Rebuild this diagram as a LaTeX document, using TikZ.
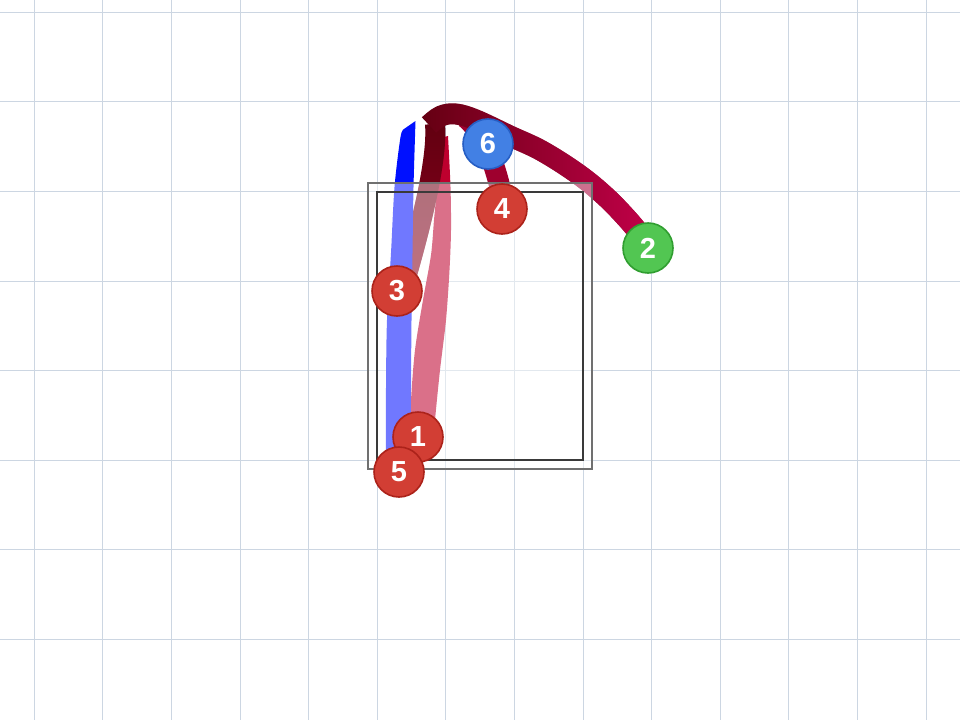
\documentclass[tikz,border=0pt]{standalone}
\usepackage{fontspec}
\setmainfont{Liberation Sans}
\usetikzlibrary{fadings}
\definecolor{gridc}{RGB}{204,214,226}
\definecolor{bluestroke}{RGB}{0,16,255}
\definecolor{redone}{RGB}{190,0,46}
\definecolor{darktop}{RGB}{96,0,16}
\definecolor{darkbot}{RGB}{146,0,32}
\definecolor{arcdark}{RGB}{100,0,18}
\definecolor{arclight}{RGB}{196,0,74}
\definecolor{sixfour}{RGB}{158,0,46}
\definecolor{mred}{RGB}{210,62,52}
\definecolor{mredb}{RGB}{172,34,26}
\definecolor{mgreen}{RGB}{82,198,82}
\definecolor{mgreenb}{RGB}{48,158,48}
\definecolor{mblue}{RGB}{66,128,228}
\definecolor{mblueb}{RGB}{38,94,196}
\definecolor{rectout}{RGB}{112,112,112}
\definecolor{rectin}{RGB}{58,58,58}
\begin{document}
\begin{tikzpicture}[x=1pt,y=-1pt,
  marker/.style={circle, minimum size=50pt, inner sep=0pt, line width=1.6pt,
    text=white, font=\bfseries\fontsize{29}{29}\selectfont},
  redm/.style={marker, fill=mred, draw=mredb},
  greenm/.style={marker, fill=mgreen, draw=mgreenb},
  bluem/.style={marker, fill=mblue, draw=mblueb},
  gridline/.style={gridc, line width=1pt},
  brush/.style={line cap=butt, line join=round}]
\useasboundingbox (0,0) rectangle (960,720);
\fill[white] (0,0) rectangle (960,720);
% grid
\foreach \i in {0,...,13} \draw[gridline] ({34.3+68.6*\i},0) -- ({34.3+68.6*\i},720);
\foreach \j in {0,...,7} \draw[gridline] (0,{12.3+89.57*\j}) -- (960,{12.3+89.57*\j});
% stroke 1 (tapered)
\fill[redone] plot[smooth] coordinates {(409,448) (411,400) (415,350) (423,300) (431,255) (434,220) (437,187) (440,138)}
  -- (448,136) -- plot[smooth] coordinates {(448,136) (450.5,187) (451,230) (449.5,270) (446,320) (440,370) (435,420) (433,448)}
  -- cycle;
% stroke 3
\draw[brush, darktop, line width=20pt] (435,124) .. controls (438,160) and (420,230) .. (403,288);
\draw[brush, darkbot, line width=20pt, path fading=north] (435,124) .. controls (438,160) and (420,230) .. (403,288);
% blue stroke
\fill[bluestroke] plot[smooth] coordinates {(386,458) (386,387) (387,320) (391,253) (394.5,187) (400.5,137) (404,129)}
  -- (415.5,121) -- plot[smooth] coordinates {(415.5,121) (413.5,187) (412.5,253) (411.5,320) (411,387) (411,445)}
  -- (398,462) -- cycle;
% stroke 6 to 4
\draw[brush, sixfour, line width=21pt] (466,118) .. controls (482,132) and (493,155) .. (503,200);
% arc stroke 2
\draw[brush, arcdark, line width=21pt] plot[smooth, tension=0.6] coordinates
  {(429,125) (441,116) (456,114) (476,120) (510,136) (542,151) (578,174) (606,197) (630,222) (645,241)};
\draw[brush, arclight, line width=21pt, path fading=west] plot[smooth, tension=0.6] coordinates
  {(429,125) (441,116) (456,114) (476,120) (510,136) (542,151) (578,174) (606,197) (630,222) (645,241)};
% frame overlay
\fill[white, opacity=0.44] (367.7,182.7) rectangle (592.3,469.3);
\draw[rectout, line width=2pt] (367.7,182.7) rectangle (592.3,469.3);
\draw[rectin, line width=2pt] (376.7,191.7) rectangle (582.7,460.3);
% markers
\node[redm] (m4) at (502,209) {4};
\node[bluem] (m6) at (488,144) {6};
\node[greenm] (m2) at (648,248) {2};
\node[redm] (m3) at (397,291) {3};
\node[redm] (m1) at (418,437) {1};
\node[redm] (m5) at (399,472) {5};
\end{tikzpicture}
\end{document}
